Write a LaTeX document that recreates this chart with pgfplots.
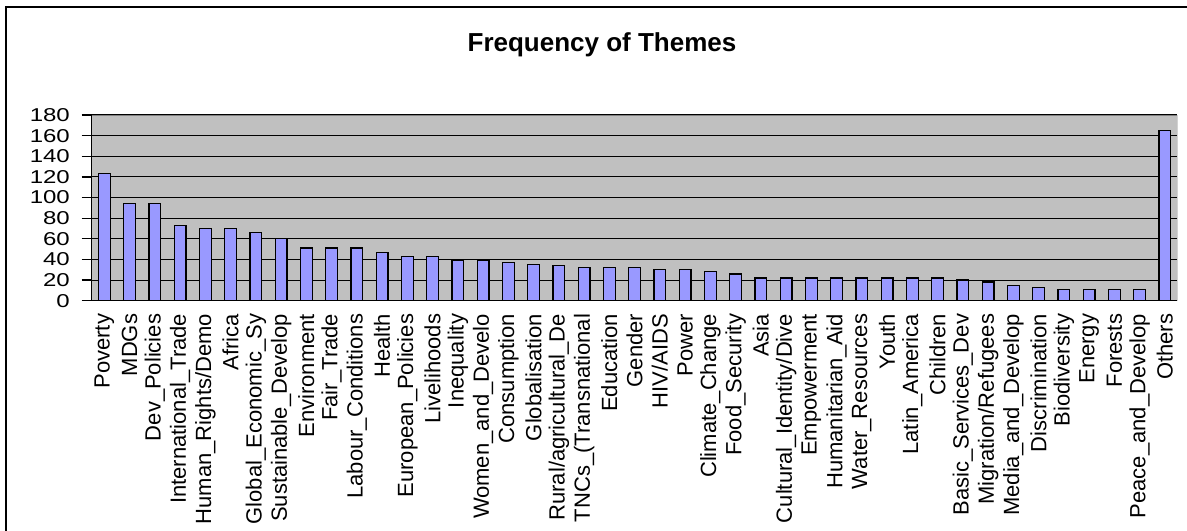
\documentclass[border=0pt]{standalone}
\usepackage{pgfplots}
\pgfplotsset{compat=1.18}
\usepackage{fontspec}
\setmainfont{Liberation Sans}
\definecolor{plotbg}{HTML}{C0C0C0}
\definecolor{barfill}{HTML}{9999FF}
\definecolor{edgegray}{HTML}{808080}
\begin{document}
\begin{tikzpicture}
\useasboundingbox (0,0) rectangle (1187bp,-531bp);
\draw[line width=2bp] (5.5bp,-540bp) -- (5.5bp,-6.7bp) -- (1195bp,-6.7bp);
\node[anchor=base, inner sep=0pt, font=\fontsize{26bp}{30bp}\selectfont\bfseries] at (602bp,-51.7bp) {Frequency of Themes};
\begin{axis}[
  at={(91.7bp,-300.7bp)}, anchor=south west,
  width=1085.8bp, height=185.7bp, scale only axis,
  xmin=0.5, xmax=43.5, ymin=0, ymax=180,
  axis background/.style={fill=plotbg},
  axis lines*=left,
  axis line style={-, black, line width=1.3bp},
  ymajorgrids, grid style={black, line width=1.1bp},
  ytick={0,20,...,180},
  yticklabel={\scalebox{1.29}[1]{\pgfmathprintnumber[assume math mode=true]{\tick}}},
  yticklabel style={font=\fontsize{18.6bp}{20bp}\selectfont, anchor=east, inner sep=0pt, xshift=-11.7bp},
  tick align=outside,
  major tick length=10bp,
  minor tick length=6bp,
  every tick/.style={black, line width=1.2bp},
  xtick=\empty,
  minor xtick={0.5,1.5,...,43.5},
  extra x ticks={1,...,43},
  extra x tick labels={Poverty,MDGs,Dev\_Policies,International\_Trade,Human\_Rights/Demo,Africa,Global\_Economic\_Sy,Sustainable\_Develop,Environment,Fair\_Trade,Labour\_Conditions,Health,European\_Policies,Livelihoods,Inequality,Women\_and\_Develo,Consumption,Globalisation,Rural/agricultural\_De,TNCs\_(Transnational,Education,Gender,HIV/AIDS,Power,Climate\_Change,Food\_Security,Asia,Cultural\_Identity/Dive,Empowerment,Humanitarian\_Aid,Water\_Resources,Youth,Latin\_America,Children,Basic\_Services\_Dev,Migration/Refugees,Media\_and\_Develop,Discrimination,Biodiversity,Energy,Forests,Peace\_and\_Develop,Others},
  extra x tick style={major tick length=0pt, tick style={draw=none}},
  xticklabel style={rotate=90, anchor=east, inner sep=0pt, xshift=-13bp, font=\fontsize{22bp}{24bp}\selectfont},
]
\addplot[ybar, bar width=11.7bp, fill=barfill, draw=black, line width=1.3bp] coordinates {
(1,123) (2,94) (3,94) (4,73) (5,70) (6,70) (7,66) (8,60) (9,51) (10,51)
(11,51) (12,47) (13,43) (14,43) (15,39) (16,39) (17,37) (18,35) (19,34) (20,32)
(21,32) (22,32) (23,30) (24,30) (25,28) (26,26) (27,22) (28,22) (29,22) (30,22)
(31,22) (32,22) (33,22) (34,22) (35,20) (36,18) (37,15) (38,13) (39,11) (40,11)
(41,11) (42,11) (43,165)};
\draw[edgegray, line width=1.3bp] (rel axis cs:0,1) -- (rel axis cs:1,1) -- (rel axis cs:1,0);
\end{axis}
\end{tikzpicture}
\end{document}
